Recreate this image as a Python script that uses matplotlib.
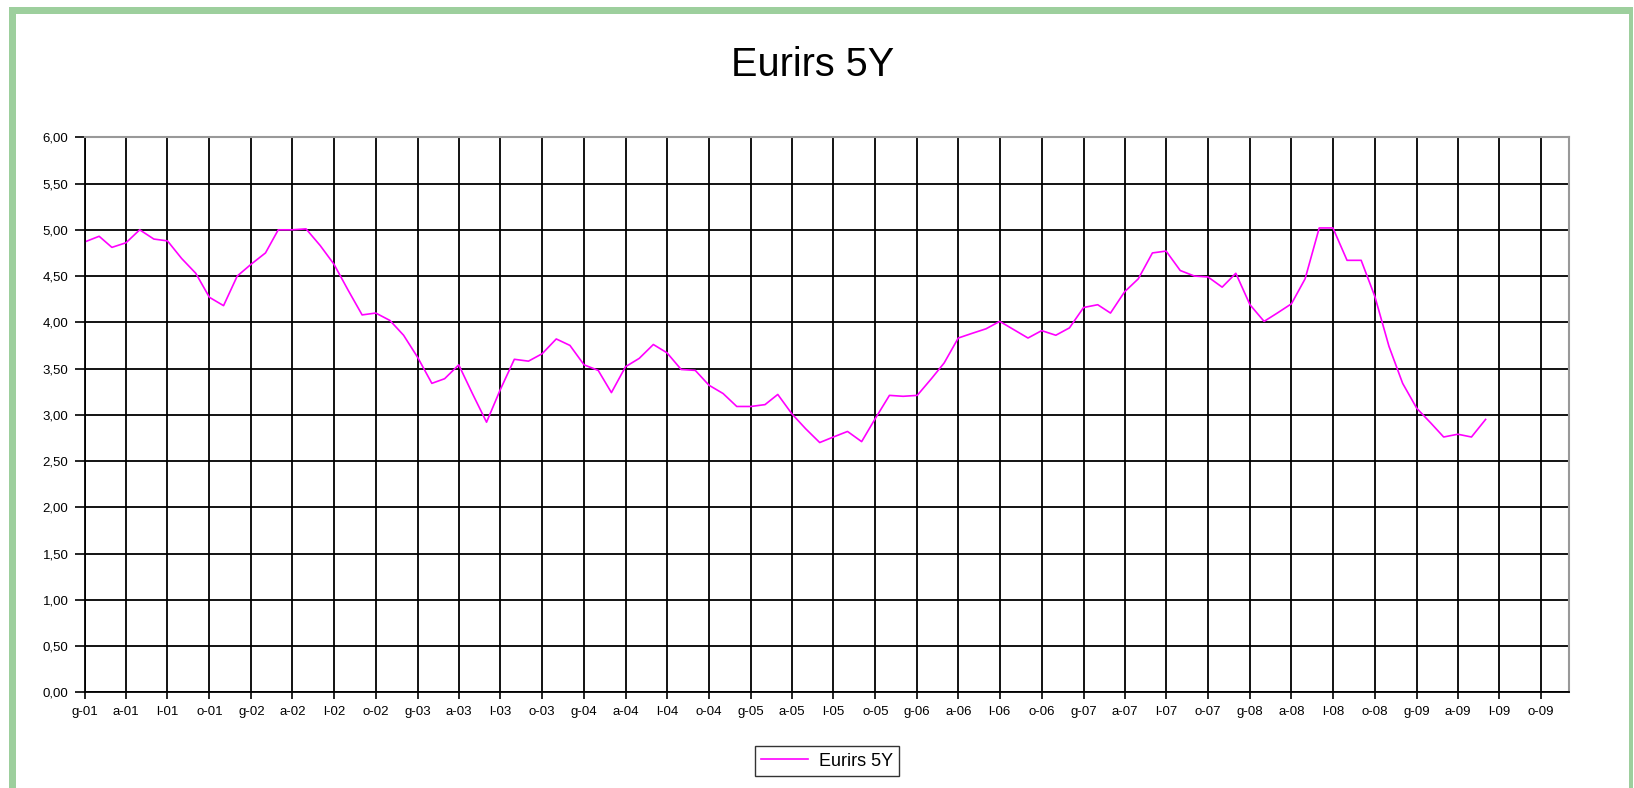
import numpy as np
import pandas as pd
import matplotlib
matplotlib.use("Agg")
import matplotlib.pyplot as plt
from matplotlib.patches import Rectangle

# monthly Eurirs 5Y values, Jan 2001 - Jun 2009
rates = [
  4.87, 4.93, 4.81, 4.86, 5.00, 4.90, 4.88, 4.69, 4.53, 4.27, 4.18, 4.50,  # 2001
  4.63, 4.75, 5.00, 5.00, 5.01, 4.83, 4.63, 4.35, 4.08, 4.10, 4.02, 3.86,  # 2002
  3.62, 3.34, 3.39, 3.54, 3.23, 2.92, 3.27, 3.60, 3.58, 3.66, 3.82, 3.75,  # 2003
  3.54, 3.48, 3.24, 3.52, 3.61, 3.76, 3.67, 3.49, 3.48, 3.32, 3.23, 3.09,  # 2004
  3.09, 3.11, 3.22, 3.01, 2.85, 2.70, 2.76, 2.82, 2.71, 2.96, 3.21, 3.20,  # 2005
  3.21, 3.39, 3.56, 3.83, 3.88, 3.93, 4.01, 3.92, 3.83, 3.91, 3.86, 3.94,  # 2006
  4.16, 4.19, 4.10, 4.33, 4.47, 4.75, 4.77, 4.56, 4.50, 4.49, 4.38, 4.53,  # 2007
  4.19, 4.01, 4.10, 4.20, 4.47, 5.02, 5.02, 4.67, 4.67, 4.28, 3.74, 3.34,  # 2008
  3.07, 2.91, 2.76, 2.79, 2.76, 2.95,                                      # 2009
]
dates = pd.date_range("2001-01-01", periods=len(rates), freq="MS")

# quarterly ticks: gennaio, aprile, luglio, ottobre
tick_dates = pd.date_range("2001-01-01", "2009-10-01", freq="QS")
month_letters = ["g", "a", "l", "o"]
tick_labels = [month_letters[i % 4] + "-" + d.strftime("%y") for i, d in enumerate(tick_dates)]
y_ticks = [0.0, 0.5, 1.0, 1.5, 2.0, 2.5, 3.0, 3.5, 4.0, 4.5, 5.0, 5.5, 6.0]

series_name = "Eurirs 5Y"
W, H = 1634, 788

plt.rcParams['font.family'] = ['Liberation Sans', 'DejaVu Sans']

fig = plt.figure(figsize=(W / 100, H / 100), dpi=100)
fig.patch.set_facecolor("white")

# green frame (left, top, right)
green = "#9dcf9d"
fig.add_artist(Rectangle((9 / W, 0), 7 / W, 1 - 7 / H, transform=fig.transFigure, color=green, lw=0))
fig.add_artist(Rectangle((9 / W, 1 - 14 / H), (1633 - 9) / W, 7 / H, transform=fig.transFigure, color=green, lw=0))
fig.add_artist(Rectangle((1629 / W, 0), 4 / W, 1 - 7 / H, transform=fig.transFigure, color=green, lw=0))

ax = fig.add_axes([85 / W, 1 - 692.3 / H, (1569 - 85) / W, (692.3 - 137.3) / H])
line, = ax.plot(dates, rates, color="#ff00ff", lw=1.2, label=series_name)

ax.set_ylim(0, 6)
ax.set_xlim(pd.Timestamp("2001-01-01"), pd.Timestamp("2009-12-01"))
ax.set_yticks(y_ticks)
ax.set_yticklabels([("%.2f" % v).replace(".", ",") for v in y_ticks])
ax.set_xticks(tick_dates)
ax.set_xticklabels(tick_labels)

ax.set_axisbelow(True)
ax.grid(True, color="black", lw=1.3)
ax.tick_params(axis="both", labelsize=9.5, color="black", width=1.2, length=5, pad=5)
ax.tick_params(axis="y", length=7)
for side in ["left", "bottom"]:
  ax.spines[side].set_color("black")
  ax.spines[side].set_linewidth(1.3)
for side in ["top", "right"]:
  ax.spines[side].set_color("#999999")
  ax.spines[side].set_linewidth(1.5)

fig.text(813 / W, 1 - 65 / H, series_name, ha="center", va="center", fontsize=28.5)

leg = fig.legend(handles=[line], loc="center", bbox_to_anchor=(827 / W, 1 - 761 / H),
                 frameon=True, fancybox=False, fontsize=13, handlelength=2.6,
                 borderpad=0.35, handletextpad=0.6, borderaxespad=0)
leg.get_frame().set_edgecolor("black")
leg.get_frame().set_linewidth(1.0)

fig.savefig("out.png", dpi=100)
